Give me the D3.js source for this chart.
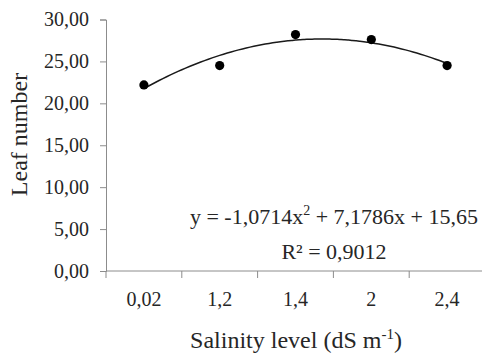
<!DOCTYPE html>
<html>
<head>
<meta charset="utf-8">
<script src="https://cdn.jsdelivr.net/npm/d3@7"></script>
<style>
  body { margin: 0; background: #fff; }
  svg { display: block; }
  text { font-family: "Liberation Serif", "Times New Roman", serif; fill: #262626; }
</style>
</head>
<body>
<svg id="chart" width="482" height="353"></svg>
<script>
const categories = ["0,02", "1,2", "1,4", "2", "2,4"];
const leafNumber = [22.2, 24.5, 28.2, 27.6, 24.5];
const yTicks = [0, 5, 10, 15, 20, 25, 30];
// polynomial trend shown on the chart: y = a*x^2 + b*x + c, x = category position 1..5
const trendCoef = [-1.0714, 7.1786, 15.65];

const svg = d3.select("#chart");
const plotLeft = 106, plotTop = 19.5, plotBottom = 271, plotRight = 485;

const locale = d3.formatLocale({ decimal: ",", thousands: ".", grouping: [3], currency: ["", ""] });
const fmt = locale.format(".2f");

const x = d3.scaleBand().domain(categories).range([plotLeft, plotRight]);
const y = d3.scaleLinear().domain([0, 30]).range([plotBottom, plotTop]);
const axisColor = "#8c8c8c";

// y axis
const yAxis = svg.append("g")
  .attr("transform", `translate(${plotLeft},0)`)
  .call(d3.axisLeft(y).tickValues(yTicks).tickFormat(fmt).tickSize(6).tickPadding(11));
yAxis.select(".domain").attr("stroke", axisColor);
yAxis.selectAll(".tick line").attr("stroke", axisColor);
yAxis.selectAll(".tick text")
  .attr("font-size", 20)
  .attr("font-family", "Liberation Serif, serif")
  .attr("fill", "#262626");

// x axis: ticks on category boundaries
const xg = svg.append("g").attr("transform", `translate(0,${plotBottom})`);
xg.append("line").attr("x1", plotLeft).attr("x2", 482).attr("stroke", axisColor);
const bounds = categories.map(c => x(c)).concat([x.range()[1]]);
xg.selectAll(".xt").data(bounds).enter().append("line")
  .attr("x1", d => d).attr("x2", d => d)
  .attr("y1", 0).attr("y2", 7)
  .attr("stroke", axisColor);
xg.selectAll(".xl").data(categories).enter().append("text")
  .attr("x", d => x(d) + x.bandwidth() / 2)
  .attr("y", 35)
  .attr("text-anchor", "middle")
  .attr("font-size", 20)
  .text(d => d);

// trend line
const pos = i => x(categories[0]) + x.bandwidth() / 2 + (i - 1) * x.step();
const trendPts = d3.range(1, 5.001, 0.05).map(t => [pos(t), y(trendCoef[0] * t * t + trendCoef[1] * t + trendCoef[2])]);
svg.append("path")
  .attr("d", d3.line().curve(d3.curveBasis)(trendPts))
  .attr("fill", "none")
  .attr("stroke", "#1a1a1a")
  .attr("stroke-width", 1.5);

// points
svg.selectAll(".pt").data(leafNumber).enter().append("circle")
  .attr("cx", (d, i) => x(categories[i]) + x.bandwidth() / 2)
  .attr("cy", d => y(d))
  .attr("r", 4.6)
  .attr("fill", "#000");

// equation
const eq = svg.append("text").attr("x", 478).attr("y", 224).attr("text-anchor", "end").attr("font-size", 22);
eq.append("tspan").text("y = -1,0714x");
eq.append("tspan").attr("font-size", 14).attr("dy", -9).text("2");
eq.append("tspan").attr("dy", 9).text(" + 7,1786x + 15,65");
svg.append("text").attr("x", 334).attr("y", 259).attr("text-anchor", "middle").attr("font-size", 22)
  .text("R² = 0,9012");

// axis titles
const xt = svg.append("text").attr("x", 296).attr("y", 348).attr("text-anchor", "middle").attr("font-size", 24);
xt.append("tspan").text("Salinity level (dS m");
xt.append("tspan").attr("font-size", 15).attr("dy", -9).text("-1");
xt.append("tspan").attr("dy", 9).text(")");

svg.append("text")
  .attr("transform", "translate(27,134.5) rotate(-90)")
  .attr("text-anchor", "middle")
  .attr("font-size", 24)
  .text("Leaf number");
</script>
</body>
</html>
